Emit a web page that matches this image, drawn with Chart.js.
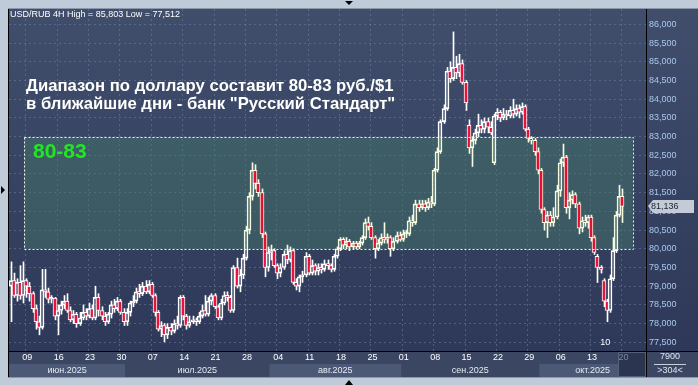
<!DOCTYPE html>
<html>
<head>
<meta charset="utf-8">
<script src="https://cdn.jsdelivr.net/npm/chart.js@4.4.0/dist/chart.umd.min.js"></script>
<style>
html, body { margin: 0; padding: 0; background: #bfcbd9; }
</style>
</head>
<body>
<canvas id="chartRub" width="698" height="385"></canvas>
<script>
// USD/RUB 4H candles (2 bars per trading day)
const open = [
79.00,79.15,78.75,79.10,78.75,79.15,79.00,78.80,78.40,78.05,
77.90,78.90,78.85,78.65,78.68,78.20,78.35,78.50,78.60,78.35,
78.10,78.25,78.00,78.15,78.30,78.20,78.40,78.15,78.70,78.35,
78.20,78.05,78.25,78.50,78.40,78.60,78.30,78.05,78.30,78.55,
78.60,78.85,78.80,79.00,78.85,79.05,78.75,78.30,77.85,77.95,
77.70,77.90,77.80,78.00,77.95,78.70,78.20,77.95,78.05,78.10,
78.05,78.20,78.35,78.25,78.60,78.75,78.45,78.15,78.55,78.75,
78.70,78.35,79.50,79.00,79.30,79.75,80.50,81.40,82.10,81.75,
81.50,80.40,79.50,79.90,79.95,79.55,79.35,79.50,79.85,79.70,
79.95,79.10,79.00,79.25,79.30,79.80,79.35,79.55,79.40,79.50,
79.45,79.60,79.55,79.45,79.80,80.00,80.25,80.10,80.20,80.05,
80.15,80.05,80.15,80.30,80.70,80.60,80.30,80.00,80.15,80.30,
80.25,80.30,80.00,80.20,80.35,80.25,80.40,80.40,80.75,80.70,
81.20,81.10,81.20,81.10,81.25,81.20,82.10,82.60,83.40,83.75,
84.75,84.55,84.85,84.70,84.95,84.45,83.30,82.70,82.90,83.10,
83.30,83.20,83.40,83.25,82.30,83.55,83.65,83.50,83.60,83.55,
83.70,83.60,83.75,83.65,83.80,83.20,82.95,82.90,82.60,82.10,
81.05,80.70,80.90,80.70,80.85,81.55,82.30,82.45,81.10,81.30,
81.45,81.20,80.55,80.75,80.70,80.85,80.30,79.80,79.50,79.15,
78.60,78.35,79.20,79.95,80.90,81.40
];
const high = [
79.65,79.35,79.20,79.55,79.65,79.20,79.10,78.85,78.50,78.20,
79.45,79.45,78.95,78.75,78.70,78.50,78.60,78.75,78.80,78.45,
78.35,78.30,78.30,78.50,78.40,78.55,78.50,79.00,78.80,78.45,
78.30,78.30,78.60,78.65,78.70,78.65,78.40,78.40,78.60,78.75,
78.95,79.05,79.10,79.15,79.15,79.10,78.80,78.35,78.05,78.00,
78.00,78.00,78.10,78.20,78.75,78.75,78.25,78.20,78.20,78.15,
78.30,78.50,78.75,78.70,78.80,78.80,78.50,78.65,78.85,78.85,
78.75,79.55,79.75,79.45,79.85,80.60,81.50,82.30,82.25,81.85,
81.60,80.45,80.05,80.10,80.00,79.60,79.60,79.95,80.10,80.05,
80.00,79.20,79.30,79.40,79.90,79.85,79.70,79.60,79.60,79.60,
79.70,79.70,79.60,79.85,80.05,80.30,80.30,80.30,80.25,80.20,
80.20,80.20,80.35,80.80,80.85,80.70,80.35,80.25,80.40,80.70,
80.40,80.35,80.30,80.45,80.45,80.50,80.50,80.85,80.90,81.30,
81.30,81.30,81.30,81.35,81.40,82.15,82.70,83.45,83.85,84.85,
85.00,85.80,85.15,85.20,85.05,84.50,83.45,83.00,83.20,83.60,
83.45,83.50,83.50,83.40,83.60,83.75,83.70,83.75,83.70,83.80,
84.00,83.85,83.85,83.90,83.85,83.25,83.00,82.95,82.70,82.15,
81.10,81.00,81.00,81.10,81.70,82.40,82.80,82.50,81.50,81.55,
81.50,81.25,80.85,80.90,80.90,80.90,80.35,79.85,79.55,79.20,
78.65,79.30,80.30,81.00,81.70,81.60
];
const low = [
78.05,78.70,78.60,78.65,78.55,78.70,78.60,78.30,77.85,77.70,
77.85,78.70,78.55,78.55,78.10,77.70,78.25,78.40,78.30,78.05,
78.00,77.90,77.95,78.10,78.10,78.15,78.10,78.10,78.20,78.10,
77.95,78.00,78.15,78.30,78.35,78.25,77.95,77.95,78.20,78.45,
78.55,78.70,78.75,78.80,78.80,78.70,78.20,77.80,77.65,77.51,
77.60,77.70,77.75,77.85,77.90,78.10,77.85,77.90,78.00,77.95,
78.00,78.15,78.20,78.20,78.50,78.40,78.10,78.10,78.50,78.60,
78.30,78.30,78.95,78.85,79.20,79.70,80.40,81.30,81.60,81.40,
80.30,79.25,79.40,79.70,79.50,79.20,79.25,79.45,79.60,79.65,
79.05,78.90,78.85,79.10,79.25,79.30,79.30,79.30,79.30,79.35,
79.40,79.45,79.38,79.40,79.75,79.95,80.00,80.00,79.95,80.00,
80.00,80.00,80.10,80.25,80.50,80.25,79.75,79.95,80.10,80.15,
80.15,79.80,79.95,80.15,80.20,80.20,80.30,80.35,80.60,80.65,
81.00,81.05,81.00,81.05,81.10,81.15,82.05,82.55,83.35,83.70,
84.45,84.50,84.55,84.60,84.40,83.70,82.55,82.20,82.80,83.00,
83.10,83.10,83.10,83.05,82.25,83.45,83.40,83.45,83.45,83.50,
83.50,83.55,83.50,83.60,83.15,82.85,82.80,82.50,82.00,80.95,
80.50,80.30,80.60,80.60,80.80,81.40,82.20,80.95,80.80,81.20,
81.10,80.40,80.45,80.60,80.55,80.20,79.85,79.10,79.35,78.45,
78.05,78.30,79.15,79.90,80.85,80.70
];
const close = [
79.15,78.75,79.10,78.75,79.15,79.00,78.80,78.40,78.05,77.90,
78.90,78.85,78.65,78.68,78.20,78.35,78.50,78.60,78.35,78.10,
78.25,78.00,78.15,78.30,78.20,78.40,78.15,78.70,78.35,78.20,
78.05,78.25,78.50,78.40,78.60,78.30,78.05,78.30,78.55,78.60,
78.85,78.80,79.00,78.85,79.05,78.75,78.30,77.85,77.95,77.70,
77.90,77.80,78.00,77.95,78.70,78.20,77.95,78.05,78.10,78.05,
78.20,78.35,78.25,78.60,78.75,78.45,78.15,78.55,78.75,78.70,
78.35,79.50,79.00,79.30,79.75,80.50,81.40,82.10,81.75,81.50,
80.40,79.50,79.90,79.95,79.55,79.35,79.50,79.85,79.70,79.95,
79.10,79.00,79.25,79.30,79.80,79.35,79.55,79.40,79.50,79.45,
79.60,79.55,79.45,79.80,80.00,80.25,80.10,80.20,80.05,80.15,
80.05,80.15,80.30,80.70,80.60,80.30,80.00,80.15,80.30,80.25,
80.30,80.00,80.20,80.35,80.25,80.40,80.42,80.75,80.70,81.20,
81.10,81.20,81.10,81.25,81.20,82.10,82.60,83.40,83.75,84.75,
84.55,84.85,84.70,84.95,84.45,83.90,82.70,82.90,83.10,83.30,
83.20,83.40,83.25,83.10,83.55,83.65,83.50,83.60,83.55,83.70,
83.60,83.75,83.65,83.80,83.20,82.95,82.90,82.60,82.10,81.05,
80.70,80.90,80.70,80.85,81.55,82.30,82.45,81.10,81.30,81.45,
81.20,80.55,80.75,80.70,80.85,80.30,79.90,79.50,79.45,78.60,
78.35,79.20,79.95,80.90,81.40,81.136
];
const rightShift = 7; // empty bars to the right of the last candle

// bottom scale
const dayLabels = ['09','16','23','30','07','14','21','28','04','11','18','25','01','08','15','22','29','06','13','20'];
const dayIndex  = [5,15,25,35,45,55,65,75,85,95,105,115,125,135,145,155,165,175,185,195];
const monthNames = ['июн.2025','июл.2025','авг.2025','сен.2025','окт.2025'];
const monthStart = [0,37,83,125,169];

// price scale
const priceTicks = [77.5,78,78.5,79,79.5,80,80.5,81,81.5,82,82.5,83,83.5,84,84.5,85,85.5,86];
const priceMin = 77.267;
const priceMax = 86.412;

// range box
const rangeLow = 80, rangeHigh = 83;
const rangeFrom = 4.3, rangeTo = 198.3;

const titleTop = 'USD/RUB 4H High = 85,803 Low = 77,512';
const headline1 = 'Диапазон по доллару составит 80-83 руб./$1';
const headline2 = 'в ближайшие дни - банк "Русский Стандарт"';
const rangeText = '80-83';

const fmt = v => v.toFixed(3).replace('.', ',');
const FONT = '"Liberation Sans", Arial, sans-serif';

let candleLabels = [];
for (let i = 0; i < open.length + rightShift; i++) candleLabels.push(i);

let upperWick = [], lowerWick = [], bodies = [], bodyColors = [];
open.forEach(function(o, i) {
	const c = close[i];
	upperWick.push([Math.max(o, c), high[i]]);
	lowerWick.push([low[i], Math.min(o, c)]);
	bodies.push([o, c]);
	bodyColors.push(c < o ? '#e8123c' : 'rgba(0,0,0,0)');
});

// snap bars on whole pixels so 1px wicks stay sharp
const snapPlugin = {
	id: 'snap',
	afterDatasetsUpdate(chart) {
		chart.data.datasets.forEach(function(ds, di) {
			const isBody = di == 2;
			chart.getDatasetMeta(di).data.forEach(function(el) {
				el.x = isBody ? Math.round(el.x) : Math.round(el.x) + 0.5;
			});
		});
	}
};

const panelPlugin = {
	id: 'panel',
	beforeDraw(chart) {
		const ctx = chart.ctx, a = chart.chartArea, W = chart.width;
		const x = chart.scales.x;
		ctx.save();
		ctx.fillStyle = '#bfcbd9';
		ctx.fillRect(0, 0, W, chart.height);
		const g = ctx.createLinearGradient(0, a.top, 0, a.bottom);
		g.addColorStop(0, '#404e6c');
		g.addColorStop(1, '#2e3858');
		ctx.fillStyle = g;
		ctx.fillRect(a.left - 1, a.top - 1, W - a.left + 1, a.bottom - a.top + 1);

		// bottom strip
		const stripBottom = 377;
		ctx.fillStyle = '#3a4662';
		ctx.fillRect(a.left - 1, a.bottom, W - a.left + 1, stripBottom - a.bottom);
		const pitch = x.getPixelForValue(1) - x.getPixelForValue(0);
		for (let m = 0; m < monthStart.length; m++) {
			const x0 = m == 0 ? a.left : x.getPixelForValue(monthStart[m]) - pitch / 2;
			const x1 = m == monthStart.length - 1 ? a.right : x.getPixelForValue(monthStart[m + 1]) - pitch / 2;
			if (m % 2 == 0) {
				ctx.fillStyle = '#4b5977';
				ctx.fillRect(x0, 364, x1 - x0, stripBottom - 364);
			}
		}
		// current bar box
		const cx = x.getPixelForValue(dayIndex[dayIndex.length - 1]) - 4;
		ctx.fillStyle = '#2c3550';
		ctx.fillRect(cx, a.bottom + 1, a.right - cx, stripBottom - a.bottom - 1);
		ctx.strokeStyle = '#55617a';
		ctx.lineWidth = 1;
		ctx.strokeRect(Math.round(cx) + 0.5, a.bottom + 1.5, a.right - Math.round(cx) - 1, stripBottom - a.bottom - 2);
		ctx.restore();
	},
	beforeDatasetsDraw(chart) {
		const ctx = chart.ctx, a = chart.chartArea;
		const x = chart.scales.x, y = chart.scales.y;
		ctx.save();
		// vertical grid
		ctx.strokeStyle = 'rgba(110,128,160,0.55)';
		ctx.setLineDash([2, 3]);
		ctx.lineWidth = 1;
		dayIndex.forEach(function(idx) {
			const px = Math.round(x.getPixelForValue(idx) - 1) + 0.5;
			ctx.beginPath();
			ctx.moveTo(px, a.top);
			ctx.lineTo(px, a.bottom);
			ctx.stroke();
		});
		// range box fill
		ctx.setLineDash([]);
		const rx0 = Math.round(x.getPixelForValue(rangeFrom)), rx1 = Math.round(x.getPixelForValue(rangeTo));
		const ry0 = Math.round(y.getPixelForValue(rangeHigh)), ry1 = Math.round(y.getPixelForValue(rangeLow));
		ctx.fillStyle = 'rgba(74,126,132,0.45)';
		ctx.fillRect(rx0, ry0, rx1 - rx0, ry1 - ry0);
		ctx.restore();
	},
	afterDatasetsDraw(chart) {
		const ctx = chart.ctx;
		const x = chart.scales.x, y = chart.scales.y;
		const rx0 = Math.round(x.getPixelForValue(rangeFrom)), rx1 = Math.round(x.getPixelForValue(rangeTo));
		const ry0 = Math.round(y.getPixelForValue(rangeHigh)), ry1 = Math.round(y.getPixelForValue(rangeLow));
		ctx.save();
		ctx.globalCompositeOperation = 'multiply';
		ctx.fillStyle = 'rgb(245,250,225)';
		ctx.fillRect(rx0, ry0, rx1 - rx0, ry1 - ry0);
		ctx.globalCompositeOperation = 'source-over';
		ctx.strokeStyle = '#f2f2ea';
		ctx.setLineDash([2, 2]);
		ctx.lineWidth = 1;
		ctx.strokeRect(rx0 + 0.5, ry0 + 0.5, rx1 - rx0, ry1 - ry0);
		ctx.restore();
	},
	afterDraw(chart) {
		const ctx = chart.ctx, a = chart.chartArea, W = chart.width;
		const x = chart.scales.x, y = chart.scales.y;
		ctx.save();
		// frame lines
		ctx.strokeStyle = '#000';
		ctx.lineWidth = 1;
		ctx.beginPath();
		ctx.moveTo(a.right + 0.5, a.top - 1); ctx.lineTo(a.right + 0.5, 377);
		ctx.moveTo(a.left - 1, a.bottom + 0.5); ctx.lineTo(W, a.bottom + 0.5);
		ctx.moveTo(a.left - 0.5, a.top - 1); ctx.lineTo(a.left - 0.5, 377);
		ctx.stroke();
		ctx.strokeStyle = '#8a96aa';
		ctx.beginPath();
		ctx.moveTo(a.left - 1, a.top - 0.5); ctx.lineTo(W, a.top - 0.5);
		ctx.moveTo(a.left - 1, 377.5); ctx.lineTo(W, 377.5);
		ctx.stroke();

		// texts
		ctx.textBaseline = 'middle';
		ctx.fillStyle = '#ffffff';
		ctx.font = '9px ' + FONT;
		ctx.textAlign = 'left';
		ctx.fillText(titleTop, 10, 15);

		ctx.font = 'bold 16.7px ' + FONT;
		ctx.fillText(headline1, 26, 86);
		ctx.fillText(headline2, 26, 104);

		ctx.fillStyle = '#22e622';
		ctx.font = 'bold 21px ' + FONT;
		ctx.fillText(rangeText, 33, 152);

		// day labels
		ctx.font = '9px ' + FONT;
		ctx.textAlign = 'center';
		dayIndex.forEach(function(idx, k) {
			ctx.fillStyle = k == dayIndex.length - 1 ? '#7d8aa3' : '#ffffff';
			ctx.fillText(dayLabels[k], x.getPixelForValue(idx) + 1, 358);
		});
		// month labels
		const pitch = x.getPixelForValue(1) - x.getPixelForValue(0);
		ctx.fillStyle = '#e4eaf2';
		for (let m = 0; m < monthStart.length; m++) {
			const x0 = m == 0 ? a.left : x.getPixelForValue(monthStart[m]) - pitch / 2;
			const x1 = m == monthStart.length - 1 ? a.right : x.getPixelForValue(monthStart[m + 1]) - pitch / 2;
			ctx.fillText(monthNames[m], (x0 + x1) / 2, 370.5);
		}
		// marker near the low
		ctx.fillStyle = '#ffffff';
		ctx.fillText('10', x.getPixelForValue(189.5), 343);

		// bottom-right cell
		ctx.fillStyle = '#dfe6ef';
		ctx.fillText('7900', 670, 357);
		ctx.fillText('>304<', 670, 371);
		ctx.strokeStyle = '#c8d0dc';
		ctx.beginPath();
		ctx.moveTo(654, 364.5); ctx.lineTo(686, 364.5);
		ctx.stroke();

		// last price tag
		const last = close[close.length - 1];
		const py = Math.round(y.getPixelForValue(last));
		ctx.fillStyle = '#c3cbd6';
		ctx.beginPath();
		ctx.moveTo(a.right + 2, py);
		ctx.lineTo(a.right + 7, py - 6);
		ctx.lineTo(a.right + 48, py - 6);
		ctx.lineTo(a.right + 48, py + 7);
		ctx.lineTo(a.right + 7, py + 7);
		ctx.closePath();
		ctx.fill();
		ctx.fillStyle = '#1c2233';
		ctx.textAlign = 'left';
		ctx.fillText(fmt(last), a.right + 5, py + 0.5);

		// small scroll markers
		ctx.fillStyle = '#000';
		ctx.beginPath();
		ctx.moveTo(345, 1); ctx.lineTo(353, 1); ctx.lineTo(349, 5); ctx.closePath();
		ctx.moveTo(345, 385); ctx.lineTo(353, 385); ctx.lineTo(349, 380); ctx.closePath();
		ctx.moveTo(1, 186); ctx.lineTo(5, 190); ctx.lineTo(1, 194); ctx.closePath();
		ctx.fill();
		ctx.restore();
	}
};

const chartRub = new Chart(document.getElementById('chartRub'), {
	type: 'bar',
	data: {
		labels: candleLabels,
		datasets: [
			{ data: upperWick, backgroundColor: '#ffffff', barThickness: 1, grouped: false },
			{ data: lowerWick, backgroundColor: '#ffffff', barThickness: 1, grouped: false },
			{ data: bodies, backgroundColor: bodyColors, borderColor: '#ffffff', borderWidth: 1,
			  borderSkipped: false, barThickness: 4, minBarLength: 2, grouped: false }
		]
	},
	options: {
		responsive: false,
		animation: false,
		devicePixelRatio: 1,
		layout: { padding: { left: 9, top: 9, right: 0, bottom: 34 } },
		plugins: { legend: { display: false }, tooltip: { enabled: false } },
		scales: {
			x: { display: false },
			y: {
				position: 'right',
				min: priceMin,
				max: priceMax,
				afterBuildTicks: function(scale) {
					scale.ticks = priceTicks.map(v => ({ value: v }));
				},
				afterFit: function(scale) { scale.width = 52; },
				border: { display: false, dash: [2, 3] },
				grid: { color: 'rgba(110,128,160,0.55)', drawTicks: false },
				ticks: {
					color: '#a9c8ef',
					padding: 3,
					font: { family: FONT, size: 9 },
					callback: v => fmt(v)
				}
			}
		}
	},
	plugins: [snapPlugin, panelPlugin]
});
</script>
</body>
</html>
